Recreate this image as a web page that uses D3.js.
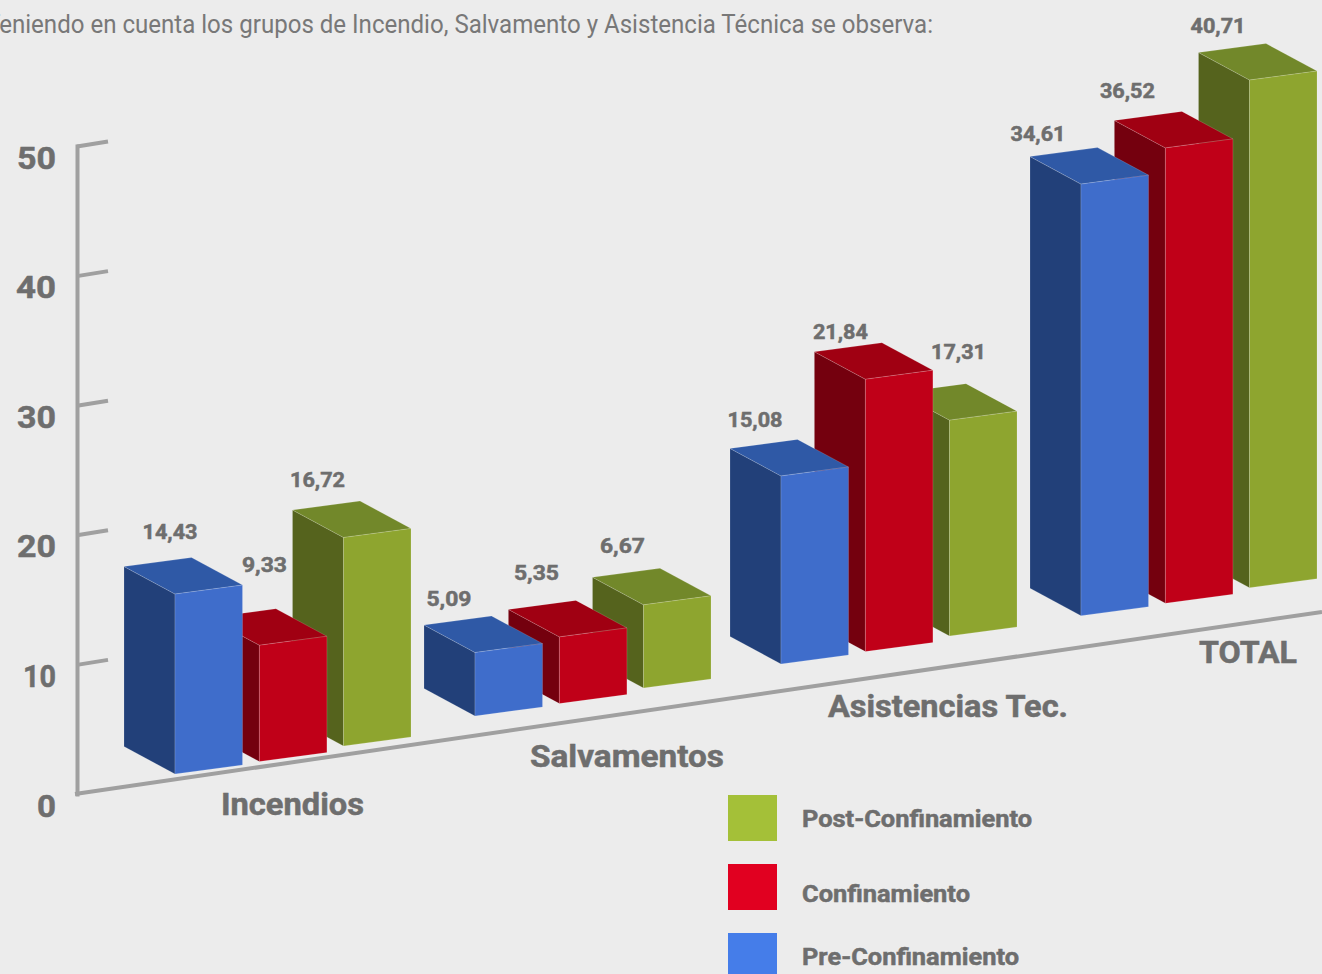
<!DOCTYPE html>
<html lang="es">
<head>
<meta charset="utf-8">
<title>Grupos de Incendio, Salvamento y Asistencia Técnica</title>
<script src="https://cdn.jsdelivr.net/npm/d3@7"></script>
<style>
  html, body { margin: 0; padding: 0; background: #ececec; overflow: hidden; }
  svg { display: block; font-family: Roboto, sans-serif; }
  text { fill: #6e6e6e; font-weight: 700; }
  text.heavy { stroke: #6e6e6e; stroke-width: 0.5; }
</style>
</head>
<body>
<div id="chart-container"></div>
<script>
const width = 1322;
const height = 974;

const subtitle = "Teniendo en cuenta los grupos de Incendio, Salvamento y Asistencia Técnica se observa:";
const categories = ["Incendios", "Salvamentos", "Asistencias Tec.", "TOTAL"];
const seriesNames = ["Pre-Confinamiento", "Confinamiento", "Post-Confinamiento"];
const preConfinamiento = [14.43, 5.09, 15.08, 34.61];
const confinamiento = [9.33, 5.35, 21.84, 36.52];
const postConfinamiento = [16.72, 6.67, 17.31, 40.71];
const axisTicks = [0, 10, 20, 30, 40, 50];
const legendOrder = ["Post-Confinamiento", "Confinamiento", "Pre-Confinamiento"];

// layout of the fake 3d: every bar is an oblique box
const barWidth = 67.5;
const barSkew = 9;
const depthX = 51;
const depthY = 27.5;

const colors = {
  "Pre-Confinamiento": { front: "#3f6dcb", side: "#224079", top: "#2f59a6", legend: "#457de9" },
  "Confinamiento": { front: "#c00018", side: "#74000e", top: "#a00012", legend: "#e10020" },
  "Post-Confinamiento": { front: "#8ea52f", side: "#55631d", top: "#72882a", legend: "#a4c038" },
};

// value labels were placed by hand in the original, offsets from the bar's front-top corner
const labelOffsets = {
  "Pre-Confinamiento": [[-5, -55], [-26, -47], [-26, -49], [-43, -43]],
  "Confinamiento": [[5, -73], [-23, -57], [-25, -40], [-38, -50]],
  "Post-Confinamiento": [[-26, -51], [-21, -52], [9, -61], [-31.5, -47]],
};
const categoryLabelDx = [117.5, 152, 167, 167];
const categoryLabelDy = [41, 51, 53, 47];
const categoryLabelWidths = [143, 194, 240, 98];
const legendLabelDy = [32, 38, 32];
const legendLabelWidths = [230, 168, 217];
const axisLabelWidths = { 0: 19, 10: 33, 20: 39, 30: 39, 40: 40, 50: 39 };

const seriesValues = {
  "Pre-Confinamiento": preConfinamiento,
  "Confinamiento": confinamiento,
  "Post-Confinamiento": postConfinamiento,
};

const decimalComma = d3.formatLocale({ decimal: ",", thousands: ".", grouping: [3], currency: ["", ""] }).format(".2f");

const groupX = d3.scaleOrdinal().domain(categories).range([175, 475, 781, 1081]);
const groupBase = d3.scaleOrdinal().domain(categories).range([774, 716, 664, 615.7]);
const seriesDx = d3.scaleOrdinal().domain(seriesNames).range([0, 84.4, 168.5]);
const seriesDy = d3.scaleOrdinal().domain(seriesNames).range([0, -12.4, -28]);
const barHeight = d3.scaleLinear().domain([0, 50]).range([0, 623.5]);
const axisY = d3.scaleLinear().domain([0, 50]).range([794, 146]);
const legendY = d3.scalePoint().domain(legendOrder).range([795, 933]);

function boxFaces(d) {
  const x = groupX(d.category) + seriesDx(d.series);
  const bottom = groupBase(d.category) + seriesDy(d.series);
  const top = bottom - barHeight(d.value);
  return {
    x,
    top,
    front: [[x, bottom], [x + barWidth, bottom - barSkew], [x + barWidth, top - barSkew], [x, top]],
    side: [[x - depthX, bottom - depthY], [x, bottom], [x, top], [x - depthX, top - depthY]],
    lid: [[x - depthX, top - depthY], [x, top], [x + barWidth, top - barSkew], [x + barWidth - depthX, top - barSkew - depthY]],
  };
}

function polygon(points) {
  return points.map((p) => p.join(",")).join(" ");
}

function drawAxes(svg) {
  const axis = svg
    .append("g")
    .attr("transform", "translate(77,0)")
    .call(d3.axisLeft(axisY).tickValues(axisTicks).tickSize(-31).tickPadding(21).tickSizeOuter(0));

  axis.select(".domain").attr("stroke", "#a0a0a0").attr("stroke-width", 4).attr("stroke-linecap", "square");

  axis
    .selectAll(".tick line")
    .attr("stroke", "#a0a0a0")
    .attr("stroke-width", 4)
    .attr("y2", -5);

  axis.selectAll(".tick line").filter((d) => d === 0).remove();

  axis
    .selectAll(".tick text")
    .attr("class", "heavy")
    .attr("font-family", "Roboto, sans-serif")
    .attr("font-size", 31)
    .attr("dy", 0)
    .attr("y", 22)
    .attr("textLength", (d) => axisLabelWidths[d])
    .attr("lengthAdjust", "spacingAndGlyphs");

  // the floor of the box runs up to the right edge of the page
  svg
    .append("line")
    .attr("x1", 75)
    .attr("y1", axisY(0))
    .attr("x2", width)
    .attr("y2", 612)
    .attr("stroke", "#a0a0a0")
    .attr("stroke-width", 4);
}

function drawBars(svg) {
  const bars = categories.flatMap((category, i) =>
    // back to front, so the blue box hides the red one and the red hides the green
    [...seriesNames].reverse().map((series) => ({ category, series, i, value: seriesValues[series][i] }))
  );

  const box = svg
    .selectAll("g.bar")
    .data(bars)
    .join("g")
    .attr("class", "bar");

  [["side", "side"], ["lid", "top"], ["front", "front"]].forEach(([face, colorKey]) => {
    box
      .append("polygon")
      .attr("points", (d) => polygon(boxFaces(d)[face]))
      .attr("fill", (d) => colors[d.series][colorKey])
      .attr("stroke", "rgba(255,255,255,0.22)")
      .attr("stroke-width", 0.7);
  });

  svg
    .selectAll("text.value")
    .data(bars)
    .join("text")
    .attr("class", "value heavy")
    .attr("x", (d) => boxFaces(d).x + labelOffsets[d.series][d.i][0])
    .attr("y", (d) => boxFaces(d).top + labelOffsets[d.series][d.i][1])
    .attr("text-anchor", "middle")
    .attr("font-size", 20)
    .attr("textLength", (d) => (d.value < 10 ? 45 : 55))
    .attr("lengthAdjust", "spacingAndGlyphs")
    .text((d) => decimalComma(d.value));
}

function drawCategoryLabels(svg) {
  svg
    .selectAll("text.category")
    .data(categories)
    .join("text")
    .attr("class", "category heavy")
    .attr("x", (d, i) => groupX(d) + categoryLabelDx[i])
    .attr("y", (d, i) => groupBase(d) + categoryLabelDy[i])
    .attr("text-anchor", "middle")
    .attr("font-size", 30.5)
    .attr("textLength", (d, i) => categoryLabelWidths[i])
    .attr("lengthAdjust", "spacingAndGlyphs")
    .text((d) => d);
}

function drawLegend(svg) {
  const item = svg
    .selectAll("g.legend")
    .data(legendOrder)
    .join("g")
    .attr("class", "legend");

  item
    .append("rect")
    .attr("x", 728)
    .attr("y", (d) => legendY(d))
    .attr("width", 49)
    .attr("height", 46)
    .attr("fill", (d) => colors[d].legend);

  item
    .append("text")
    .attr("class", "heavy")
    .attr("x", 802)
    .attr("y", (d, i) => legendY(d) + legendLabelDy[i])
    .attr("font-size", 24)
    .attr("textLength", (d, i) => legendLabelWidths[i])
    .attr("lengthAdjust", "spacingAndGlyphs")
    .text((d) => d);
}

function createChart() {
  const svg = d3
    .select("#chart-container")
    .append("svg")
    .attr("viewBox", `0 0 ${width} ${height}`)
    .attr("width", width)
    .attr("height", height)
    .attr("role", "img")
    .attr("aria-label", subtitle);

  svg
    .append("text")
    .attr("x", -14)
    .attr("y", 33)
    .attr("font-size", 26)
    .attr("textLength", 947)
    .attr("lengthAdjust", "spacingAndGlyphs")
    .style("font-weight", 400)
    .style("fill", "#787878")
    .text(subtitle);

  drawAxes(svg);
  drawBars(svg);
  drawCategoryLabels(svg);
  drawLegend(svg);
}

document.addEventListener("DOMContentLoaded", createChart);
</script>
</body>
</html>
